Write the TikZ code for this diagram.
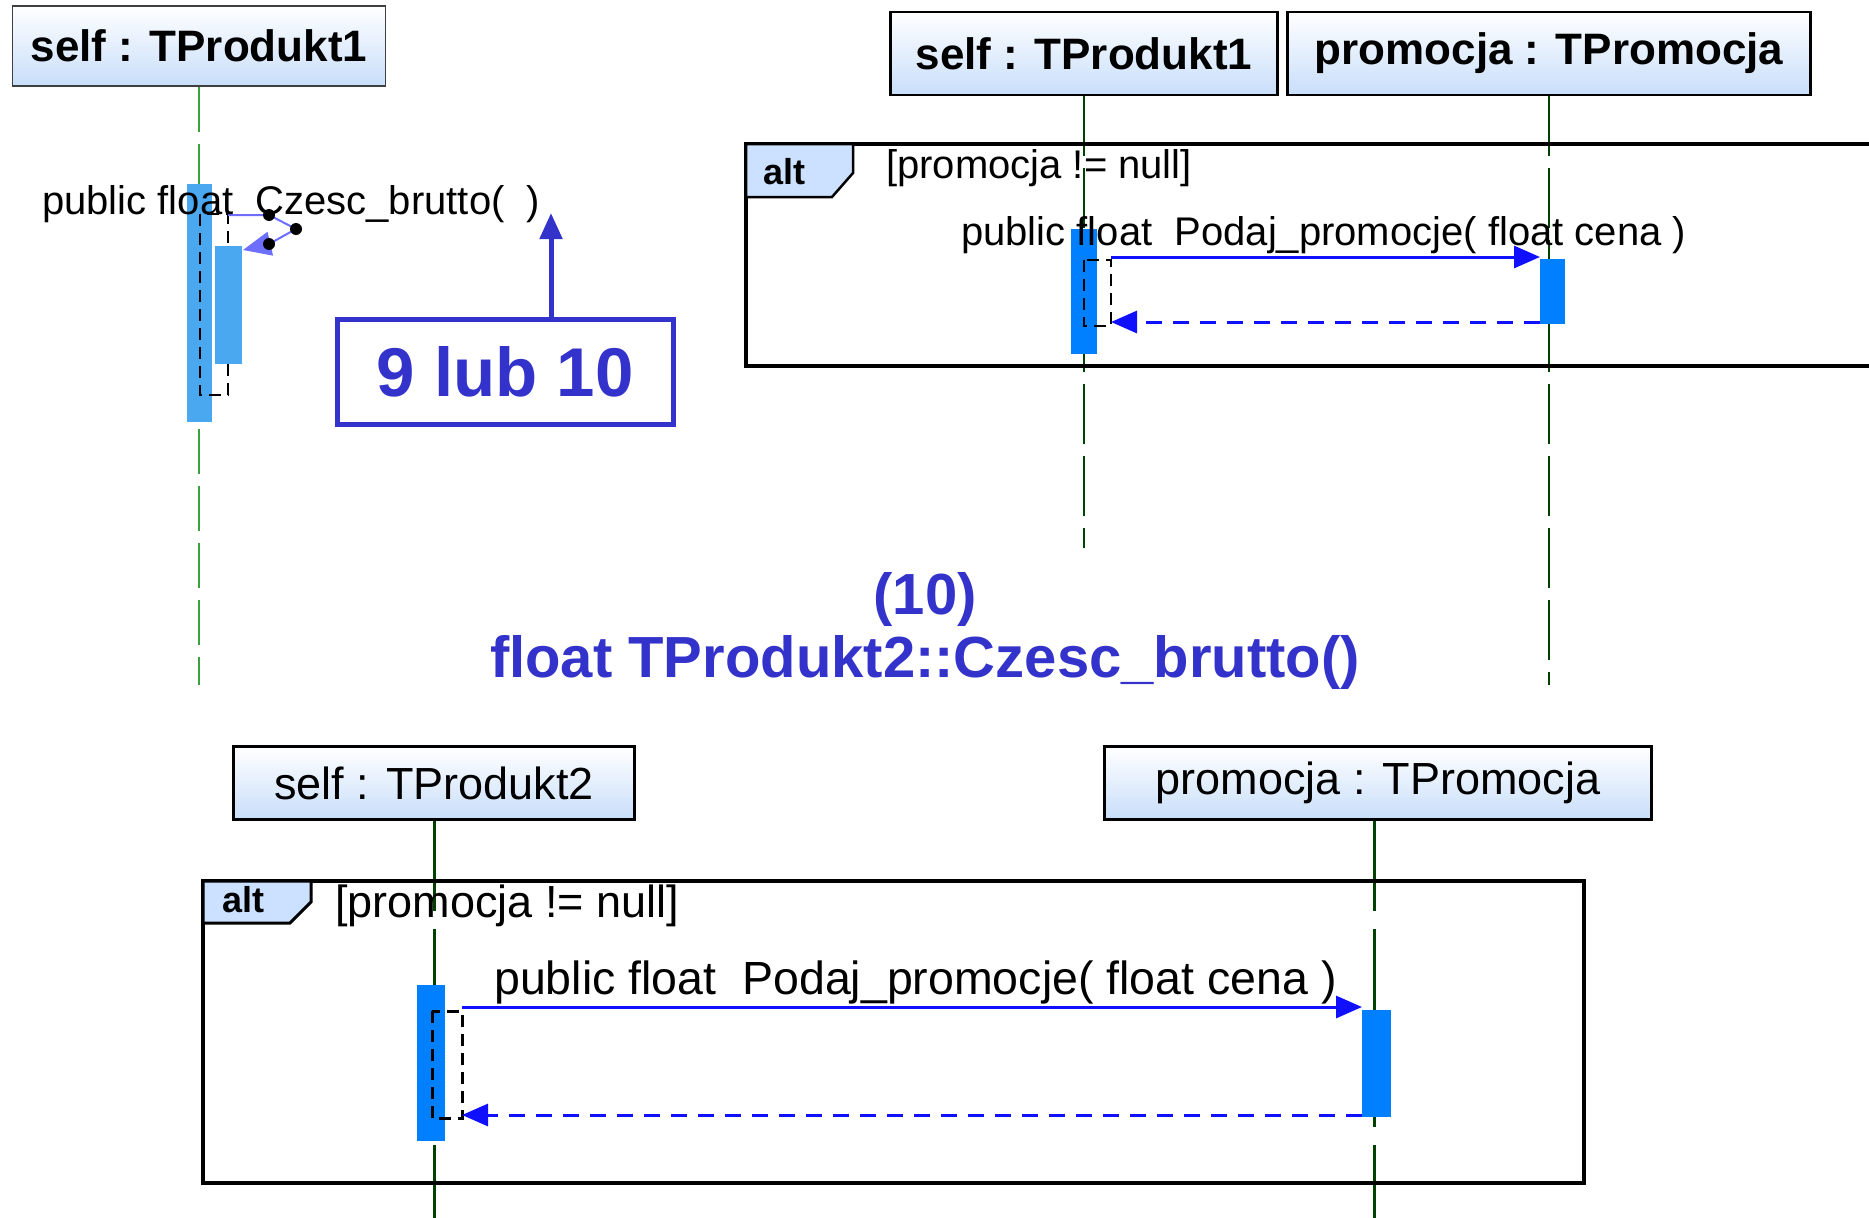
\documentclass[tikz,border=0pt]{standalone}
\usepackage{fontspec}
\setmainfont{Liberation Sans}
\usetikzlibrary{arrows.meta}

\definecolor{actlight}{RGB}{74,168,240}
\definecolor{actblue}{RGB}{0,128,255}
\definecolor{msgblue}{RGB}{16,16,255}
\definecolor{selfviolet}{RGB}{110,110,255}
\definecolor{callblue}{RGB}{51,51,204}
\definecolor{lifedark}{RGB}{0,64,0}
\definecolor{lifelight}{RGB}{60,160,60}
\definecolor{tabblue}{RGB}{204,224,255}
\definecolor{boxblue}{RGB}{200,222,250}

\tikzset{
  obj/.style={draw=black, line width=2.5pt, top color=white, bottom color=boxblue,
    inner sep=0pt, font=\fontsize{44}{50}\selectfont\bfseries},
  life/.style={lifedark, line width=2.5pt, dash pattern=on 60pt off 12pt},
  frame/.style={draw=black, line width=3.5pt},
  tab/.style={draw=black, line width=2.5pt, fill=tabblue},
  msg/.style={anchor=base west, inner sep=0pt, font=\fontsize{40}{48}\selectfont},
  call/.style={msgblue, line width=3pt, -{Triangle[length=26pt,width=22pt]}},
  reply/.style={call, dash pattern=on 16pt off 11pt},
  exec/.style={black, line width=2pt, dash pattern=on 12pt off 7pt}
}

\begin{document}
\begin{tikzpicture}[x=1pt,y=-1pt]
\clip (0,0) rectangle (1869,1218);
\fill[white] (0,0) rectangle (1869,1218);

% Czesc_brutto w TProdukt1
\node[obj, draw=black!75, line width=1.5pt, minimum width=373, minimum height=80] (selfA) at (199,46) {self : TProdukt1};
\coordinate (endA) at (199,685);
\draw[lifelight, line width=2pt, dash pattern=on 45pt off 12pt] (selfA.south) -- (endA);

\fill[actlight] (187,184) rectangle (212,422);
\draw[exec] (200,214) rectangle (228,395);
\fill[actlight] (215,246) rectangle (242,364);

\coordinate (sA0) at (228,215);
\coordinate (sA1) at (269,215);
\coordinate (sA2) at (296,229);
\coordinate (sA3) at (269,244);
\coordinate (sA4) at (243,250);
\draw[selfviolet, line width=2pt, -{Triangle[length=28pt,width=24pt]}] (sA0) -- (sA1) -- (sA2) -- (sA3) -- (sA4);
\foreach \p in {sA1,sA2,sA3}
  \fill (\p) circle (6pt);
\node[msg] (msgA) at (42,214) {public float~~Czesc\_brutto(~~)};

\node[draw=callblue, line width=5pt, minimum width=336, minimum height=105, text=callblue,
  font=\fontsize{69}{80}\selectfont\bfseries] (note) at (505,372) {9 lub 10};
\coordinate (noteTip) at (551,213);
\draw[callblue, line width=5pt, -{Triangle[length=26pt,width=22pt]}] (note.north -| noteTip) -- (noteTip);

% Podaj_promocje z TProdukt1
\node[obj, minimum width=387, minimum height=83] (selfB) at (1084,53.5) {self : TProdukt1};
\node[obj, minimum width=523, minimum height=83] (promB) at (1549,53.5) {promocja : TPromocja};
\coordinate (endB1) at (1084,548);
\coordinate (endB2) at (1549,685);
\draw[life] (selfB.south) -- (endB1);
\draw[life] (promB.south) -- (endB2);

\draw[frame] (746,144) rectangle (1900,366);
\draw[tab] (746,144) -- (853,144) -- (853,173) -- (832,197) -- (746,197) -- cycle;
\node[msg, font=\fontsize{36}{40}\selectfont\bfseries] (altB) at (763,184) {alt};
\node[msg] (guardB) at (886,178) {[promocja != null]};

\fill[actblue] (1071,229) rectangle (1097,354);
\draw[exec] (1084,260) rectangle (1111,326);
\fill[actblue] (1540,259) rectangle (1565,324);
\coordinate (cB0) at (1111,257);
\coordinate (cB1) at (1540,257);
\coordinate (rB0) at (1540,322);
\coordinate (rB1) at (1111,322);
\draw[call] (cB0) -- (cB1);
\draw[reply] (rB0) -- (rB1);
\node[msg] (msgB) at (961,245) {public float~~Podaj\_promocje( float cena )};

% tytul
\node[anchor=base, text=callblue, font=\fontsize{58}{63}\selectfont\bfseries] (titleA) at (925,614) {(10)};
\node[anchor=base, text=callblue, font=\fontsize{58}{63}\selectfont\bfseries] (titleB) at (925,677) {float TProdukt2::Czesc\_brutto()};

% Podaj_promocje z TProdukt2
\node[obj, line width=3.5pt, minimum width=401, minimum height=73, font=\fontsize{45}{52}\selectfont] (selfC) at (434,783) {self : TProdukt2};
\node[obj, line width=3.5pt, minimum width=547, minimum height=73, font=\fontsize{45}{52}\selectfont] (promC) at (1378,783) {promocja : TPromocja};
\coordinate (endC1) at (434,1230);
\coordinate (endC2) at (1374,1230);
\draw[life, line width=3pt, dash pattern=on 90pt off 18pt] (selfC.south) -- (endC1);
\draw[life, line width=3pt, dash pattern=on 90pt off 18pt] (promC.south -| endC2) -- (endC2);

\draw[frame] (203,881) rectangle (1584,1183);
\draw[tab, line width=3pt] (203,881) -- (311,881) -- (311,902) -- (290,923) -- (203,923) -- cycle;
\node[msg, font=\fontsize{36}{40}\selectfont\bfseries] (altC) at (222,912) {alt};
\node[msg, font=\fontsize{45}{50}\selectfont] (guardC) at (335,917) {[promocja != null]};

\fill[actblue] (417,985) rectangle (445,1141);
\draw[exec, line width=3pt] (432,1011) rectangle (462,1118);
\fill[actblue] (1362,1010) rectangle (1391,1117);
\coordinate (cC0) at (462,1007);
\coordinate (cC1) at (1362,1007);
\coordinate (rC0) at (1362,1115);
\coordinate (rC1) at (462,1115);
\draw[call] (cC0) -- (cC1);
\draw[reply] (rC0) -- (rC1);
\node[msg, font=\fontsize{46.5}{52}\selectfont] (msgC) at (494,994) {public float~~Podaj\_promocje( float cena )};
\end{tikzpicture}
\end{document}
